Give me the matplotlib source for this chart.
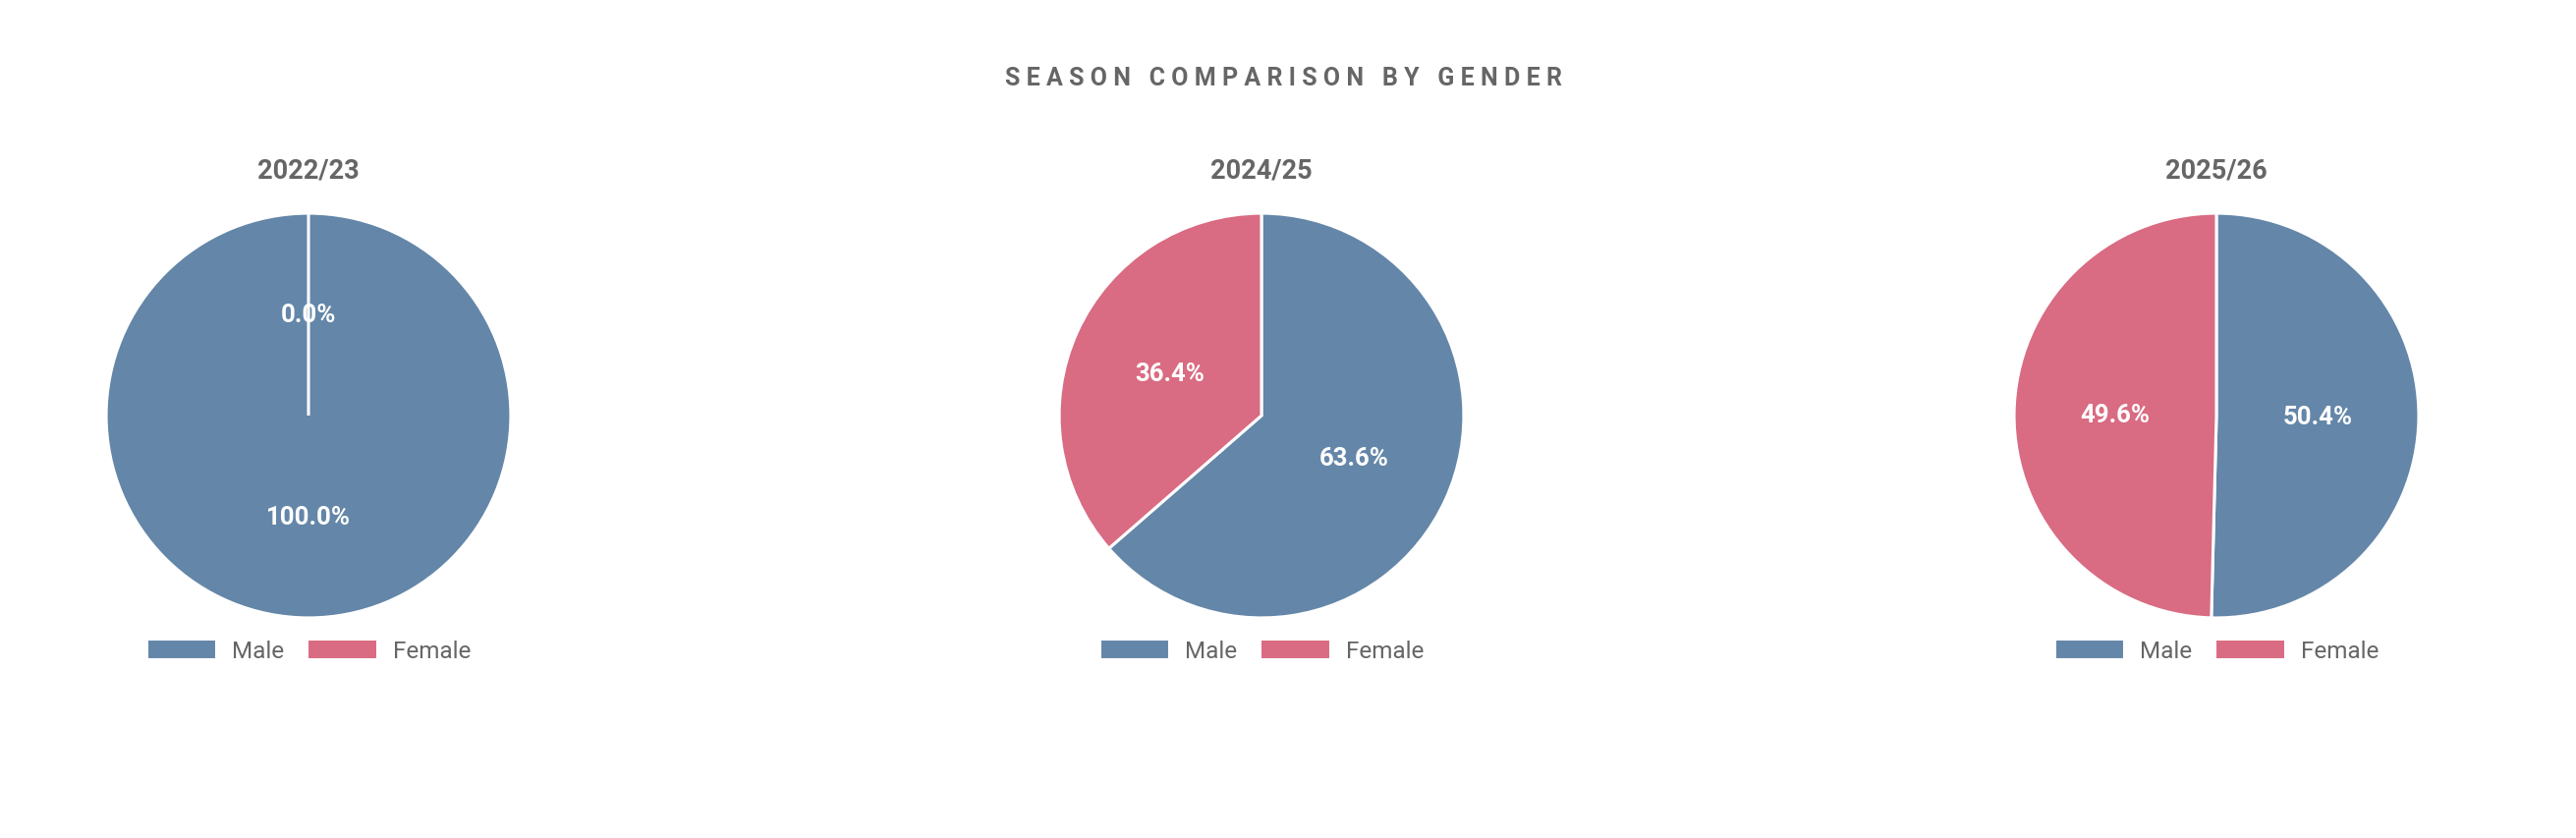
import matplotlib.pyplot as plt

plt.rcParams['font.family'] = ['Roboto', 'DejaVu Sans']

# Data
seasons = ["2022/23", "2024/25", "2025/26"]
genders = ["Male", "Female"]
male_pct = [100.0, 63.6, 50.4]
female_pct = [0.0, 36.4, 49.6]

blue = "#6486a8"
pink = "#d96b82"
grey = "#666666"

W, H = 2622, 854
fig = plt.figure(figsize=(W / 100, H / 100), dpi=100)

# Pixel layout of the three pies
centers_x = [314, 1284, 2256]
cy = 424
r = 208

fig.text(1306 / W, 1 - 80 / H, " ".join("SEASON COMPARISON BY GENDER"),
         ha="center", va="center", fontsize=18, fontweight="bold", color=grey)

for i, season in enumerate(seasons):
    cx = centers_x[i]
    ax = fig.add_axes([(cx - r) / W, (H - cy - r) / H, 2 * r / W, 2 * r / H])
    wedges, texts, autotexts = ax.pie(
        [male_pct[i], female_pct[i]],
        colors=[blue, pink],
        startangle=90,
        counterclock=False,
        autopct="%.1f%%",
        pctdistance=0.5,
        radius=1,
        wedgeprops=dict(edgecolor="white", linewidth=2.2),
        textprops=dict(color="white", fontsize=18.5, fontweight="bold"),
    )
    ax.set_xlim(-1.01, 1.01)
    ax.set_ylim(-1.01, 1.01)
    ax.axis("off")

    fig.text(cx / W, 1 - 174 / H, season, ha="center", va="center",
             fontsize=19.5, fontweight="bold", color=grey)

    ax.legend(wedges, genders, loc="center",
              bbox_to_anchor=(cx / W, 1 - 663 / H), bbox_transform=fig.transFigure,
              ncol=2, frameon=False, fontsize=17.5, labelcolor=grey,
              handlelength=2.95, handleheight=0.95, handletextpad=0.65,
              columnspacing=0.95)

fig.savefig("out.png", dpi=100, facecolor="white")
